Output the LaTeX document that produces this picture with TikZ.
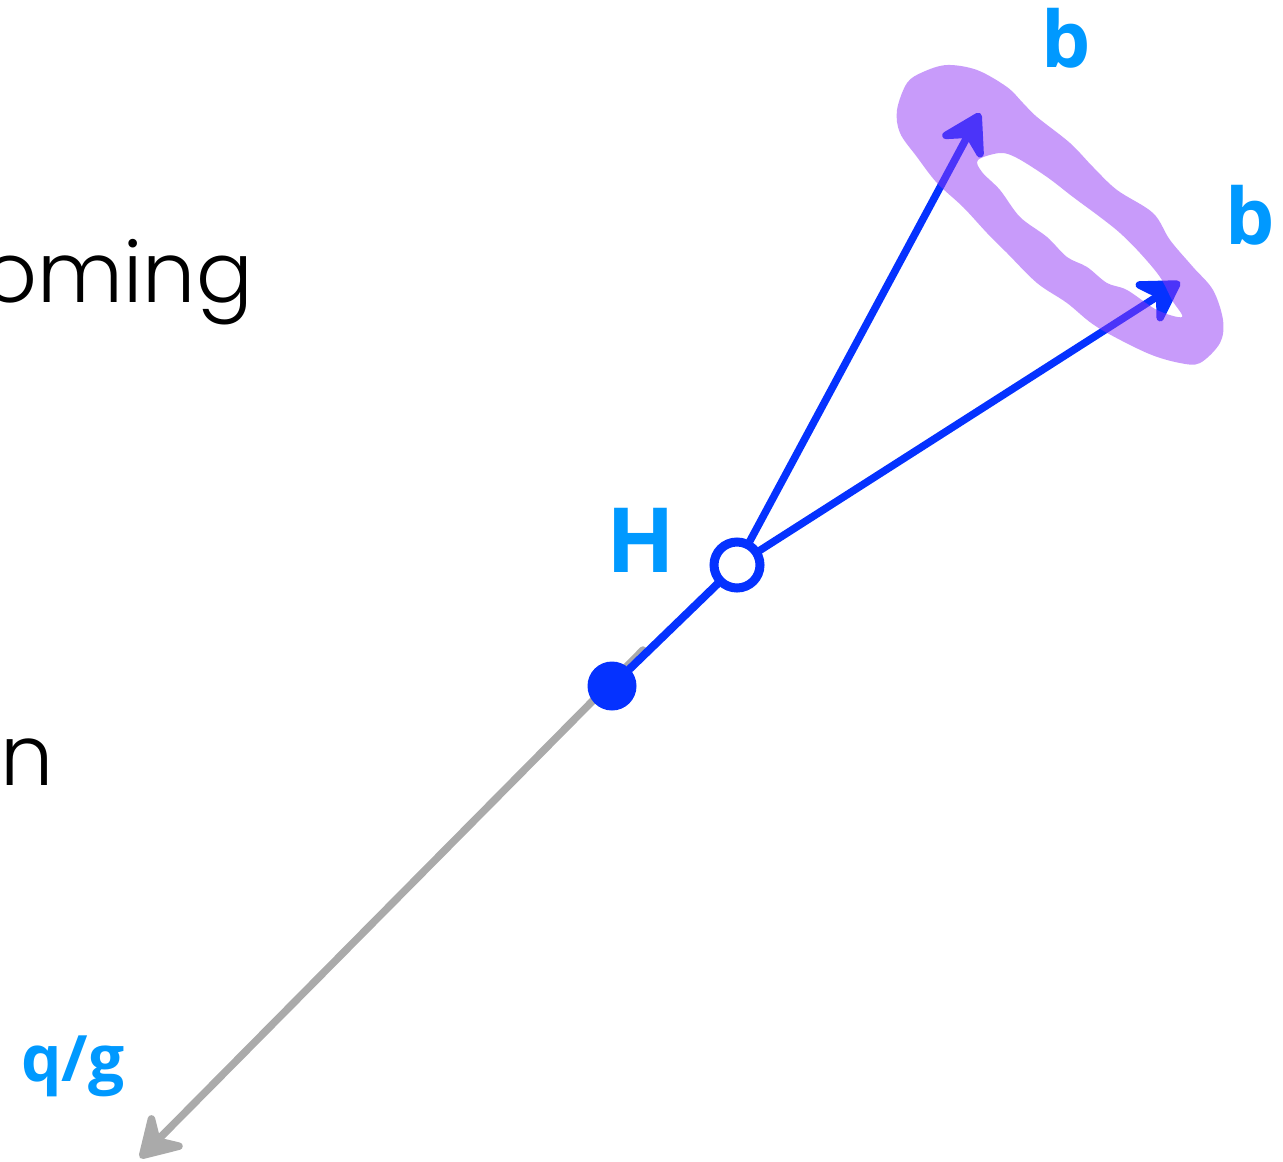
\documentclass[tikz,border=0pt]{standalone}
\usepackage{fontspec}
\setmainfont{Open Sans}
\newfontfamily\thinfont{Poppins Light}
\usetikzlibrary{arrows.meta}
\definecolor{penblue}{RGB}{5,50,255}
\definecolor{labelblue}{RGB}{0,153,255}
\definecolor{penpurple}{RGB}{145,55,245}
\definecolor{pengray}{RGB}{170,170,170}
\tikzset{
  pen/.style={line width=7.5pt, line cap=round, line join=round},
  sketchtip/.style={-{Stealth[length=50pt, width=60pt, inset=18pt, round]}},
  lbl/.style={text=labelblue, font=\bfseries\fontsize{#1}{#1}\selectfont, inner sep=0pt},
  bigword/.style={text=black, font=\thinfont\fontsize{84}{84}\selectfont, inner sep=0pt, anchor=base east},
  highlight/.style={fill=penpurple, fill opacity=0.5, even odd rule}
}
\begin{document}
\begin{tikzpicture}[x=1pt,y=-1pt]
\useasboundingbox (0,0) rectangle (1283,1162);
% cut-off words at left
\node[bigword] (w1) at (253,302) {oming};
\node[bigword] (w2) at (54,785) {n};
% coordinates
\coordinate (gstart) at (643,650);
\coordinate (gtip) at (140,1158);
\coordinate (tipA) at (980,113);
\coordinate (tipB) at (1180,282);
% gray arrow
\draw[pen, pengray, sketchtip] (gstart) -- (gtip);
% filled dot and open circle
\node[circle, fill=penblue, minimum size=49pt, inner sep=0pt] (dot) at (612,686) {};
\node[circle, draw=penblue, line width=9pt, fill=white, minimum size=46pt, inner sep=0pt] (ring) at (737,565) {};
\draw[pen, penblue, line width=8pt] (dot) -- (ring);
\draw[pen, penblue, sketchtip] (ring) -- (tipA);
\draw[pen, penblue, sketchtip] (ring) -- (tipB);
% purple highlight loop (outer contour with inner hole)
\fill[highlight]
  plot[smooth cycle, tension=0.55] coordinates {
   (897,110) (907,83) (923,72) (947,65) (977,70) (1007,87) (1023,103) (1037,117)
   (1070,143) (1093,167) (1117,190) (1153,213) (1170,240) (1193,267) (1213,290)
   (1223,320) (1220,343) (1200,363) (1180,363) (1147,353) (1097,327) (1067,303)
   (1037,283) (1007,253) (987,233) (963,207) (937,183) (917,157) (900,133)}
  plot[smooth cycle, tension=0.55] coordinates {
   (978,160) (1000,153) (1017,158) (1047,177) (1073,197) (1100,217) (1120,233)
   (1140,253) (1160,277) (1172,300) (1182,317) (1157,310) (1127,290) (1107,283)
   (1087,267) (1067,257) (1047,237) (1020,217) (1000,190) (982,172)};
% labels
\node[lbl=90] (H) at (641,540) {H};
\node[lbl=78] (b1) at (1066,38) {b};
\node[lbl=78] (b2) at (1250,215) {b};
\node[lbl=64] (qg) at (73,1066) {q/g};
\end{tikzpicture}
\end{document}
